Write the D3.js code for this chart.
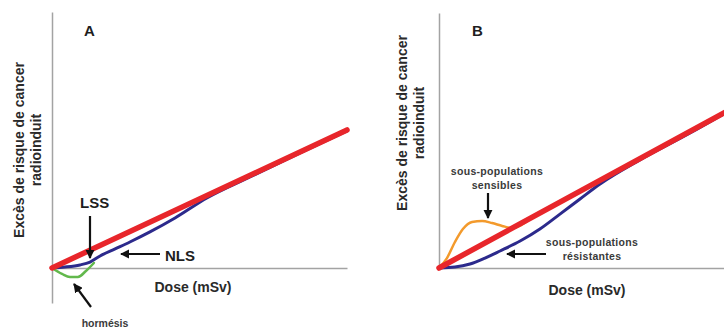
<!DOCTYPE html>
<html>
<head>
<meta charset="utf-8">
<script src="https://cdn.jsdelivr.net/npm/d3@7"></script>
<style>
  html, body { margin: 0; padding: 0; background: #fff; }
  svg { display: block; font-family: "Liberation Sans", Arial, sans-serif; }
</style>
</head>
<body>
<svg id="chart" width="724" height="329"></svg>
<script>
// ---------- DATA (arbitrary units: dose 0-100, excess risk) ----------
// Panel A
const lssDoseA   = [0, 100];
const lssRiskA   = [0, 100];
const nlsDoseA   = [0, 4.4, 9.5, 12.9, 16.3, 21.4, 26.4, 33.2, 41.7, 52.5, 67.1, 84.1, 100];
const nlsRiskA   = [0, 0.7, 2.2, 4.3, 8.7, 13.8, 18.8, 26.1, 36.2, 50.7, 65.9, 83.3, 99.3];
const hormDoseA  = [0, 3.4, 6.1, 8.8, 11.5, 14.2];
const hormRiskA  = [0, -4.3, -6.5, -6.5, -2.2, 3.6];
// Panel B
const lssDoseB   = [0, 100];
const lssRiskB   = [0, 100];
const sensDoseB  = [0, 2.7, 5.4, 8.1, 11.2, 14.6, 18.0, 21.4, 24.7, 34.2, 54.6, 100];
const sensRiskB  = [0, 6.2, 16.2, 24.3, 28.7, 29.3, 28.0, 26.2, 24.9, 34.6, 55.0, 100.2];
const resDoseB   = [0, 5.4, 10.5, 15.6, 20.7, 27.5, 34.2, 41.0, 47.8, 54.6, 68.1, 85.1, 100];
const resRiskB   = [0, 0.6, 2.5, 6.2, 10.6, 16.8, 24.3, 33.6, 43.0, 52.3, 67.3, 84.1, 99.7];

const panelLabels = ["A", "B"];
const xTitle = "Dose (mSv)";
const yTitleLines = ["Excès de risque de cancer", "radioinduit"];

// ---------- SETUP ----------
const svg = d3.select("#chart");
const zip = (xs, ys) => xs.map((d, i) => ({x: d, y: ys[i]}));

const C = {
  red: "#e8262b", blue: "#2c2a8c", green: "#62b84c", orange: "#f39a2c",
  axis: "#a3a3a3", text: "#1e1e1e", small: "#3a3a3a"
};

// Scales
const xA = d3.scaleLinear().domain([0, 100]).range([52, 347]);
const yA = d3.scaleLinear().domain([-25.4, 185.5]).range([303, 12]);
const xB = d3.scaleLinear().domain([0, 100]).range([439, 734]);
const yB = d3.scaleLinear().domain([0, 158.9]).range([268, 13]);

// Arrow marker
const defs = svg.append("defs");
defs.append("marker")
  .attr("id", "ah").attr("viewBox", "0 0 10 10")
  .attr("refX", 9).attr("refY", 5)
  .attr("markerWidth", 4.2).attr("markerHeight", 4.2)
  .attr("markerUnits", "strokeWidth")
  .attr("orient", "auto")
  .append("path").attr("d", "M0,0 L10,5 L0,10 Z").attr("fill", "#111");

function drawAxes(x, y) {
  const gx = svg.append("g").attr("transform", `translate(0,${y(0)})`)
    .call(d3.axisBottom(x).tickValues([]).tickSizeOuter(0));
  const gy = svg.append("g").attr("transform", `translate(${x(0)},0)`)
    .call(d3.axisLeft(y).tickValues([]).tickSizeOuter(0));
  [gx, gy].forEach(g => g.select(".domain").attr("stroke", C.axis).attr("stroke-width", 1.5));
}

function drawLine(x, y, data, color, width, curve) {
  const line = d3.line().x(d => x(d.x)).y(d => y(d.y)).curve(curve || d3.curveMonotoneX);
  svg.append("path").datum(data)
    .attr("d", line).attr("fill", "none")
    .attr("stroke", color).attr("stroke-width", width)
    .attr("stroke-linejoin", "round").attr("stroke-linecap", "round");
}

function arrow(x1, y1, x2, y2) {
  svg.append("line").attr("x1", x1).attr("y1", y1).attr("x2", x2).attr("y2", y2)
    .attr("stroke", "#111").attr("stroke-width", 2.2).attr("marker-end", "url(#ah)");
}

function text(x, y, s, size, opts = {}) {
  return svg.append("text").attr("x", x).attr("y", y)
    .attr("font-size", size).attr("font-weight", "bold")
    .attr("fill", opts.fill || C.text)
    .attr("text-anchor", opts.anchor || "start")
    .attr("letter-spacing", opts.ls || 0)
    .text(s);
}

// rotated two-line axis title, each line centred on cy
function yTitle(bx, cy) {
  yTitleLines.forEach((l, i) => {
    svg.append("text")
      .attr("transform", `translate(${bx + i * 17},${cy}) rotate(-90)`)
      .attr("text-anchor", "middle")
      .attr("font-size", 14).attr("font-weight", "bold")
      .attr("fill", "#2a2a2a")
      .text(l);
  });
}

// ---------- PANEL A ----------
drawAxes(xA, yA);
drawLine(xA, yA, zip(nlsDoseA, nlsRiskA), C.blue, 3);
drawLine(xA, yA, zip(hormDoseA, hormRiskA), C.green, 2.5);
drawLine(xA, yA, zip(lssDoseA, lssRiskA), C.red, 5.5, d3.curveLinear);

text(84, 36, panelLabels[0], 15);
text(80, 208, "LSS", 15);
arrow(90, 216, 90, 258);
text(165, 261, "NLS", 15);
arrow(160, 254, 121, 254);
arrow(91, 307, 74, 284);
text(105, 327, "hormésis", 10.5, {anchor: "middle", fill: C.small});
text(193, 292, xTitle, 14, {anchor: "middle", fill: "#2a2a2a"});
yTitle(24, 150);

// ---------- PANEL B ----------
drawAxes(xB, yB);
drawLine(xB, yB, zip(resDoseB, resRiskB), C.blue, 3);
drawLine(xB, yB, zip(sensDoseB, sensRiskB), C.orange, 2.5);
drawLine(xB, yB, zip(lssDoseB, lssRiskB), C.red, 5.5, d3.curveLinear);

text(472, 36, panelLabels[1], 15);
text(497, 175, "sous-populations", 10.5, {anchor: "middle", fill: C.small, ls: 0.3});
text(497, 189, "sensibles", 10.5, {anchor: "middle", fill: C.small, ls: 0.3});
arrow(488, 193, 488, 218);
text(592, 246, "sous-populations", 10.5, {anchor: "middle", fill: C.small, ls: 0.3});
text(592, 260, "résistantes", 10.5, {anchor: "middle", fill: C.small, ls: 0.3});
arrow(546, 254, 507, 254);
text(587, 295, xTitle, 14, {anchor: "middle", fill: "#2a2a2a"});
yTitle(407, 123);
</script>
</body>
</html>
